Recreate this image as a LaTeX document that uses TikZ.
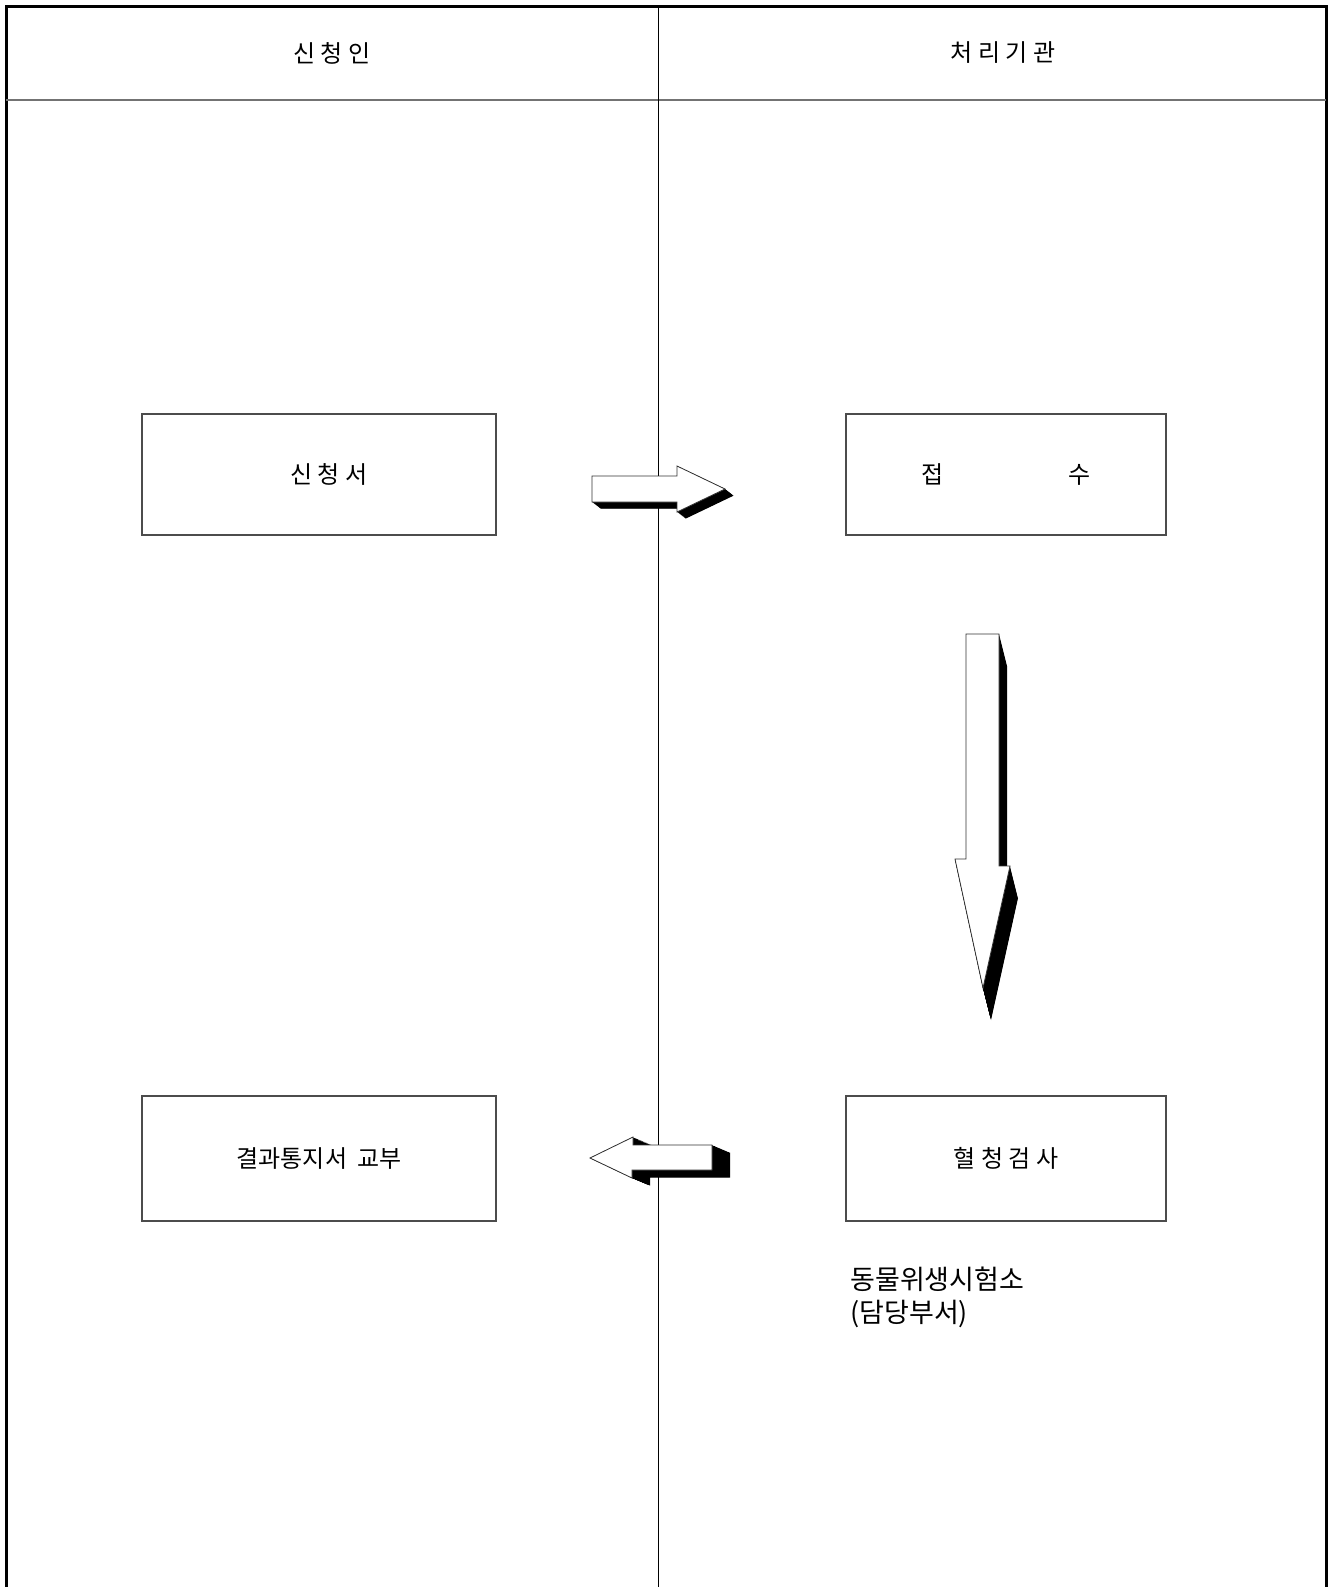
\documentclass[tikz,border=0pt]{standalone}
\usepackage{fontspec}
\setmainfont{Noto Sans CJK KR}
\newcommand{\gapA}{\hspace{2.8pt}}
\begin{document}
\begin{tikzpicture}[x=0.5pt,y=-0.5pt,
  frame/.style={line width=1.5pt,black},
  box/.style={draw=black!70,line width=0.85pt,fill=white,inner sep=0pt},
  lbl/.style={font=\fontsize{12}{16}\selectfont},
  notelbl/.style={font=\fontsize{13.5}{16}\selectfont,inner sep=0pt,anchor=base west},
  arrowbody/.style={fill=white,draw=black!80,line width=0.4pt,line join=miter}]
\useasboundingbox (0,0) rectangle (1332,1587);
% frame
\draw[frame] (6,1587) -- (6,6) -- (1326,6) -- (1326,1587);
\draw[black!55,line width=0.9pt] (6,100) -- (1326,100);
\draw[black,line width=0.5pt] (658,6) -- (658,1587);
% header texts
\node[lbl] (h1) at (332,53) {신\gapA 청\gapA 인};
\node[lbl] (h2) at (1003,53) {처\gapA 리\gapA 기\gapA 관};
% boxes
\node[box,lbl,minimum width=177pt,minimum height=60.5pt] (a) at (319,474.5) {\hspace{10pt}신\gapA 청\gapA 서};
\node[box,lbl,minimum width=160pt,minimum height=60.5pt] (b) at (1006,474.5) {접\hspace{62pt}수\hspace{5pt}};
\node[box,lbl,minimum width=177pt,minimum height=62.5pt] (d) at (319,1158.5) {결과통지서\hspace{5pt}교부};
\node[box,lbl,minimum width=160pt,minimum height=62.5pt] (c) at (1006,1158.5) {혈\gapA 청\gapA 검\gapA 사};
\node[notelbl] (note1) at (850,1289) {동물위생시험소};
\node[notelbl] (note2) at (850,1322) {(담당부서)};
% right arrow (a -> b)
\foreach \t in {0,0.05,...,1.0}
  \fill[black,shift={(\t*9,\t*7)}] (592,476) -- (677,476) -- (677,466) -- (725,489) -- (677,512) -- (677,502) -- (592,502) -- cycle;
\draw[arrowbody] (592,476) -- (677,476) -- (677,466) -- (725,489) -- (677,512) -- (677,502) -- (592,502) -- cycle;
% down arrow (b -> c)
\foreach \t in {0,0.025,...,1.0}
  \fill[black,shift={(\t*8,\t*32)}] (966,634) -- (999,634) -- (999,866) -- (1010,866) -- (983,988) -- (955,859) -- (966,859) -- cycle;
\draw[arrowbody] (966,634) -- (999,634) -- (999,866) -- (1010,866) -- (983,988) -- (955,859) -- (966,859) -- cycle;
% left arrow (c -> d)
\foreach \t in {0,0.05,...,1.0}
  \fill[black,shift={(\t*19,\t*8)}] (590,1158) -- (633,1137) -- (633,1145) -- (712,1145) -- (712,1170) -- (632,1170) -- (632,1178) -- cycle;
\draw[arrowbody] (590,1158) -- (633,1137) -- (633,1145) -- (712,1145) -- (712,1170) -- (632,1170) -- (632,1178) -- cycle;
\end{tikzpicture}
\end{document}
